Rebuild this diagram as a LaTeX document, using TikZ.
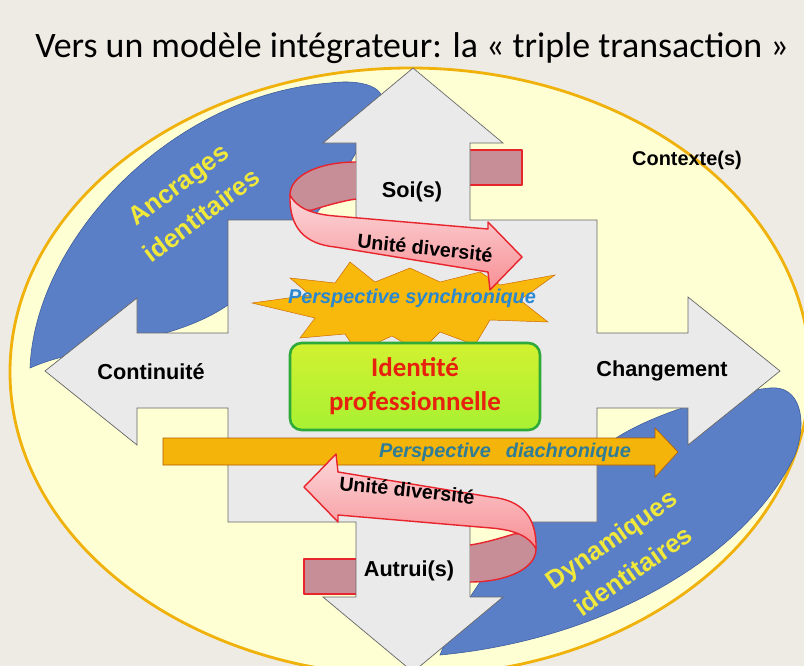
\documentclass[tikz,border=0pt]{standalone}
\usepackage{fontspec}
\setmainfont{Liberation Sans}
\newfontfamily\calibri{Carlito}

\definecolor{bgbeige}{HTML}{EDEBE3}
\definecolor{ctxfill}{HTML}{FFFFD4}
\definecolor{ctxline}{HTML}{F0B20A}
\definecolor{crossgray}{HTML}{EAEAEA}
\definecolor{swooshblue}{HTML}{5B7FC6}
\definecolor{swooshline}{HTML}{3C5C9C}
\definecolor{swtext}{HTML}{F0E83A}
\definecolor{ribpink}{HTML}{F6A8AE}
\definecolor{ribdark}{HTML}{C88E98}
\definecolor{ribred}{HTML}{E8242C}
\definecolor{burst}{HTML}{F8B80C}
\definecolor{idgreen}{HTML}{C6EE3C}
\definecolor{idborder}{HTML}{2DAA3A}
\definecolor{idred}{HTML}{E8200E}
\definecolor{synblue}{HTML}{2A88D0}
\definecolor{diateal}{HTML}{2E7C96}
\definecolor{diaorange}{HTML}{F5B40A}

\begin{document}
\begin{tikzpicture}[x=0.03cm,y=-0.03cm,
    lbl/.style={font=\bfseries\fontsize{18.5}{22}\selectfont},
    swtxt/.style={font=\bfseries\fontsize{22}{33}\selectfont,text=swtext,align=center,inner sep=0pt},
    ribtxt/.style={font=\bfseries\fontsize{16.8}{20}\selectfont,rotate=-6},
    perstxt/.style={font=\bfseries\itshape\fontsize{17}{20}\selectfont},
    crossarm/.style={fill=crossgray,draw=gray!80!black,line width=0.6pt},
    swoosh/.style={fill=swooshblue,draw=swooshline,line width=0.5pt},
    ribbon/.style={draw=ribred,line width=1.2pt,line join=round},
    idbox/.style={rectangle,rounded corners=10pt,draw=idborder,line width=2.2pt,
      top color=idgreen!80!yellow,bottom color=idgreen!85!green,
      minimum width=7.5cm,minimum height=2.61cm,align=center,
      font=\calibri\bfseries\fontsize{23}{29}\selectfont,text=idred}]
    \useasboundingbox (0,0) rectangle (804,666);
    \fill[bgbeige] (0,0) rectangle (804,666);

    % contexte
    \draw[fill=ctxfill,draw=ctxline,line width=2.4pt] (410,372) ellipse [x radius=400,y radius=304];

    % swooshes
    \path[swoosh] (30,368) .. controls (35,240) and (170,95) .. (330,83)
      .. controls (370,78) and (392,92) .. (378,110)
      .. controls (350,170) and (300,250) .. (228,305)
      .. controls (170,345) and (80,345) .. (30,368) -- cycle;
    \path[swoosh] (440,655) .. controls (470,580) and (540,500) .. (613,440)
      .. controls (650,415) and (720,393) .. (770,388)
      .. controls (800,385) and (808,420) .. (795,455)
      .. controls (745,560) and (600,640) .. (440,655) -- cycle;

    % back of the ribbons
    \foreach \ang in {0,180} {
      \begin{scope}[rotate around={\ang:(413,372)}]
        \path[ribbon,fill=ribdark] (464,150) rectangle (522,185);
      \end{scope}
    }

    % cross
    \path[crossarm] (413,68) -- (503,143) -- (470,143) -- (470,220) -- (597,220)
      -- (597,333) -- (688,333) -- (688,297) -- (780,371) -- (688,445) -- (688,408)
      -- (597,408) -- (597,522) -- (470,522) -- (470,597) -- (503,597) -- (413,672)
      -- (323,597) -- (356,597) -- (356,522) -- (228,522) -- (228,408) -- (137,408)
      -- (137,445) -- (45,371) -- (137,298) -- (137,333) -- (228,333) -- (228,220)
      -- (356,220) -- (356,143) -- (323,143) -- cycle;

    % burst
    \path[fill=burst,draw=orange!80!black,line width=0.4pt]
      (350,262) -- (375,282) -- (410,268) -- (440,282) -- (480,272) -- (500,285)
      -- (555,275) -- (520,300) -- (548,322) -- (490,320) -- (475,345) -- (440,332)
      -- (420,352) -- (392,336) -- (357,352) -- (345,334) -- (300,338) -- (315,318)
      -- (252,303) -- (310,295) -- (290,278) -- (335,283) -- cycle;

    % diachronique
    \path[fill=diaorange,draw=orange!70!black,line width=0.5pt]
      (163,438) -- (655,438) -- (655,428) -- (678,452) -- (655,477) -- (655,465)
      -- (163,465) -- cycle;

    % ribbons
    \foreach \ang in {0,180} {
      \begin{scope}[rotate around={\ang:(413,372)}]
        \path[ribbon,fill=ribdark] (356,199) .. controls (342,201) and (325,206) .. (312,210)
          .. controls (300,212) and (291,206) .. (290,195)
          .. controls (290,175) and (320,162) .. (356,162);
        \path[ribbon,top color=ribpink!45!white,bottom color=ribpink!85!red]
          (290,195) .. controls (289,228) and (305,244) .. (335,247) -- (488,272)
          -- (490,290) -- (522,257) -- (488,222) -- (488,229) -- (335,216)
          .. controls (310,214) and (296,207) .. (290,195) -- cycle;
      \end{scope}
    }

    \node[idbox] (ident) at (415,386.5) {Identité\\professionnelle};

    % texts
    \node[anchor=base,font=\calibri\fontsize{30.6}{34}\selectfont] (title) at (412,57)
      {Vers un modèle intégrateur: la « triple transaction »};
    \node[lbl] (soi) at (412,192) {Soi(s)};
    \node[lbl] (autrui) at (409,571) {Autrui(s)};
    \node[lbl] (contin) at (151,372) {Continuité};
    \node[lbl] (chang) at (662,371) {Changement};
    \node[font=\bfseries\fontsize{17}{20}\selectfont] (ctx) at (687,160) {Contexte(s)};
    \node[ribtxt] (unite1) at (425,248) {Unité diversité};
    \node[ribtxt] (unite2) at (407,490) {Unité diversité};
    \node[perstxt,text=synblue] (synchro) at (412,298) {Perspective synchronique};
    \node[perstxt,text=diateal] (diachro) at (505,452) {Perspective\hspace{0.45cm}diachronique};
    \node[swtxt,rotate=37] (ancr) at (190,200) {Ancrages\\identitaires};
    \node[swtxt,rotate=35] (dyn) at (622,555) {Dynamiques\\identitaires};
\end{tikzpicture}
\end{document}
